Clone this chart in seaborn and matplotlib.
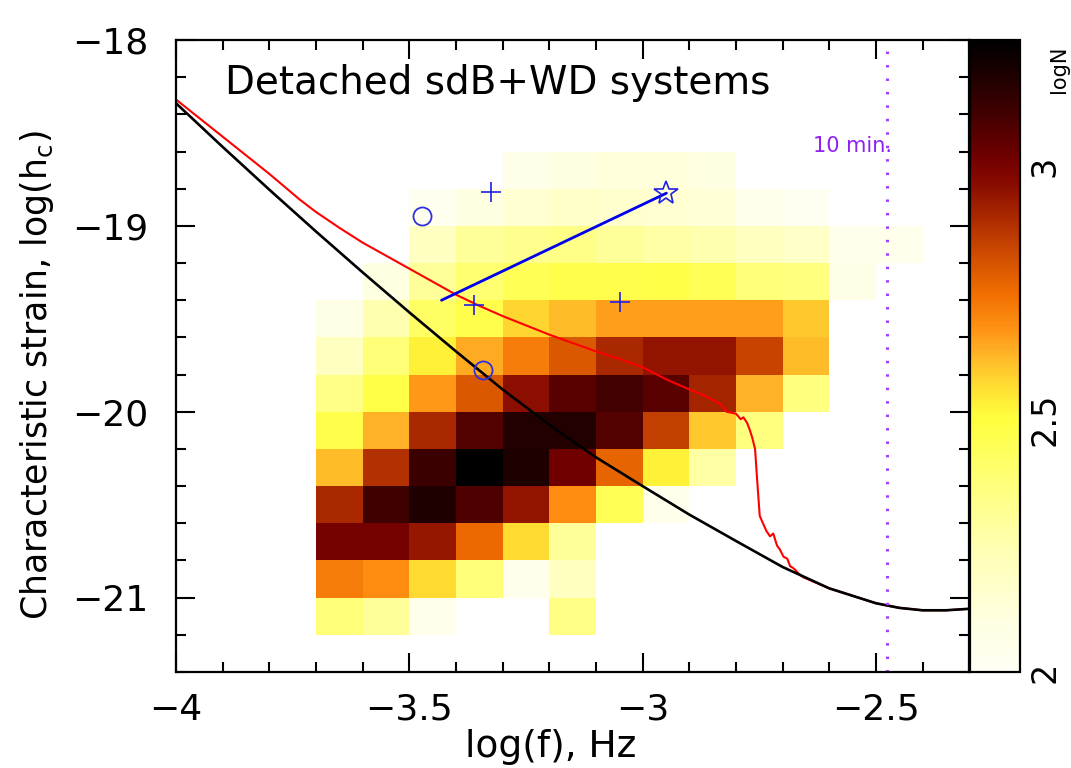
import numpy as np
import matplotlib
matplotlib.use("Agg")
import matplotlib.pyplot as plt
import seaborn as sns
from matplotlib.colors import LinearSegmentedColormap
from matplotlib.ticker import MultipleLocator

# population map: bin centres and log10 of the number of systems per bin
logf_centers = [-3.65, -3.55, -3.45, -3.35, -3.25, -3.15, -3.05,
                -2.95, -2.85, -2.75, -2.65, -2.55, -2.45]
logh_centers = [-18.7, -18.9, -19.1, -19.3, -19.5, -19.7, -19.9,
                -20.1, -20.3, -20.5, -20.7, -20.9, -21.1]
nan = np.nan
logN_rows = [
    [nan, nan, nan, nan, 2.06, 2.10, 2.12, 2.12, 2.10, nan, nan, nan, nan],
    [nan, nan, 2.03, 2.10, 2.15, 2.18, 2.16, 2.15, 2.13, 2.05, 2.02, nan, nan],
    [nan, nan, 2.20, 2.30, 2.33, 2.35, 2.30, 2.28, 2.25, 2.20, 2.18, 2.04, 2.05],
    [nan, 2.10, 2.30, 2.40, 2.45, 2.47, 2.47, 2.48, 2.45, 2.38, 2.36, 2.07, nan],
    [2.08, 2.25, 2.42, 2.47, 2.58, 2.62, 2.66, 2.66, 2.66, 2.66, 2.60, nan, nan],
    [2.20, 2.38, 2.53, 2.64, 2.72, 2.80, 2.90, 2.95, 2.95, 2.84, 2.62, nan, nan],
    [2.35, 2.48, 2.67, 2.80, 2.96, 3.06, 3.10, 3.06, 2.91, 2.63, 2.36, nan, nan],
    [2.47, 2.63, 2.90, 3.07, 3.17, 3.17, 3.07, 2.85, 2.60, 2.36, nan, nan, nan],
    [2.62, 2.88, 3.12, 3.25, 3.18, 3.02, 2.77, 2.53, 2.28, nan, nan, nan, nan],
    [2.90, 3.11, 3.18, 3.08, 2.95, 2.69, 2.45, 2.05, nan, nan, nan, nan, nan],
    [3.01, 3.01, 2.94, 2.76, 2.57, 2.30, nan, nan, nan, nan, nan, nan, nan],
    [2.72, 2.69, 2.57, 2.38, 2.05, 2.20, nan, nan, nan, nan, nan, nan, nan],
    [2.38, 2.30, 2.05, nan, nan, 2.35, nan, nan, nan, nan, nan, nan, nan],
]

# detector sensitivity (black) and sensitivity + confusion noise (red)
sens_logf = [-4.0, -3.9, -3.8, -3.7, -3.6, -3.5, -3.4, -3.3, -3.2, -3.1, -3.0,
             -2.9, -2.8, -2.7, -2.6, -2.5, -2.45, -2.4, -2.35, -2.3]
sens_logh = [-18.34, -18.575, -18.805, -19.03, -19.25, -19.465, -19.675, -19.88,
             -20.07, -20.245, -20.40, -20.553, -20.695, -20.835, -20.95, -21.03,
             -21.055, -21.068, -21.068, -21.06]
noise_logf = [-4.0, -3.9, -3.8, -3.734, -3.7, -3.65, -3.6, -3.55, -3.5, -3.45, -3.4,
              -3.35, -3.3, -3.25, -3.2, -3.15, -3.1, -3.05, -3.0, -2.95, -2.9,
              -2.87, -2.85, -2.83, -2.82, -2.80, -2.79, -2.784, -2.776, -2.77,
              -2.765, -2.759, -2.755, -2.749, -2.742, -2.735, -2.727, -2.72, -2.712,
              -2.706, -2.698, -2.69, -2.684, -2.675, -2.666, -2.656, -2.6, -2.5,
              -2.45, -2.4, -2.35, -2.3]
noise_logh = [-18.32, -18.52, -18.72, -18.86, -18.925, -19.01, -19.09, -19.16, -19.23,
              -19.30, -19.37, -19.43, -19.485, -19.535, -19.585, -19.63, -19.675,
              -19.715, -19.76, -19.825, -19.88, -19.91, -19.935, -19.965, -20.0,
              -20.01, -20.04, -20.03, -20.06, -20.10, -20.14, -20.20, -20.35, -20.56,
              -20.60, -20.64, -20.67, -20.655, -20.72, -20.74, -20.78, -20.79, -20.83,
              -20.845, -20.87, -20.89, -20.95, -21.03, -21.055, -21.068, -21.068, -21.06]

# individual known systems
circle_logf = [-3.472, -3.343]
circle_logh = [-18.946, -19.774]
plus_logf = [-3.325, -3.361, -3.049]
plus_logh = [-18.815, -19.425, -19.41]
track_logf = [-3.431, -2.949]
track_logh = [-19.40, -18.824]
star_logf = [-2.949]
star_logh = [-18.824]

period_10min_logf = -2.477

sns.set_style("ticks")
plt.rcParams['font.family'] = ['DejaVu Sans']
plt.rcParams.update({"text.color": "black", "axes.labelcolor": "black",
                     "xtick.color": "black", "ytick.color": "black",
                     "axes.edgecolor": "black"})

cmap = LinearSegmentedColormap.from_list("heat", [
    (0.000, (1.00, 1.00, 0.96)),
    (0.080, (1.00, 1.00, 0.88)),
    (0.200, (1.00, 1.00, 0.69)),
    (0.320, (1.00, 1.00, 0.43)),
    (0.400, (1.00, 1.00, 0.24)),
    (0.448, (1.00, 0.88, 0.20)),
    (0.496, (1.00, 0.73, 0.16)),
    (0.544, (1.00, 0.57, 0.08)),
    (0.600, (0.94, 0.43, 0.00)),
    (0.656, (0.82, 0.31, 0.00)),
    (0.720, (0.67, 0.16, 0.00)),
    (0.776, (0.53, 0.04, 0.00)),
    (0.816, (0.44, 0.00, 0.00)),
    (0.880, (0.27, 0.00, 0.00)),
    (0.944, (0.12, 0.00, 0.00)),
    (1.000, (0.00, 0.00, 0.00)),
])

fig = plt.figure(figsize=(10.71, 7.68), dpi=100)
ax = fig.add_axes([0.1643, 0.125, 0.7407, 0.8229])
cax = fig.add_axes([0.9057, 0.125, 0.0467, 0.8229])

dx, dy = 0.1, 0.2
x_edges = np.append(np.array(logf_centers) - dx / 2, logf_centers[-1] + dx / 2)
y_edges = np.append(np.array(logh_centers) + dy / 2, logh_centers[-1] - dy / 2)
Z = np.ma.masked_invalid(np.array(logN_rows, dtype=float))
mesh = ax.pcolormesh(x_edges, y_edges, Z, cmap=cmap, vmin=2.0, vmax=3.25)

sns.lineplot(x=noise_logf, y=noise_logh, sort=False, estimator=None, color="red", lw=1.5, ax=ax)
sns.lineplot(x=sens_logf, y=sens_logh, sort=False, estimator=None, color="black", lw=1.9, ax=ax)
sns.lineplot(x=track_logf, y=track_logh, sort=False, estimator=None, color="#0000ee", lw=2.0, ax=ax)

ax.plot(circle_logf, circle_logh, 'o', mfc='none', mec='#3030e0', ms=13, mew=1.3)
ax.plot(plus_logf, plus_logh, '+', color='#2020e8', ms=14, mew=1.2)
ax.plot(star_logf, star_logh, '*', mfc='none', mec='#2020e8', ms=18, mew=1.2)

ax.axvline(period_10min_logf, color='#a040ff', lw=2.2, ls=(0, (0.8, 3.6)))
ax.text(-2.466, -18.57, "10 min.", color='#9020f0', fontsize=15, ha='right', va='center')
ax.text(-3.895, -18.23, "Detached sdB+WD systems", fontsize=28, ha='left', va='center')

ax.set_xlim(-4.0, -2.3)
ax.set_ylim(-21.4, -18.0)
ax.set_xticks([-4, -3.5, -3, -2.5])
ax.set_xticklabels(["\u22124", "\u22123.5", "\u22123", "\u22122.5"])
ax.set_yticks([-21, -20, -19, -18])
ax.set_yticklabels(["\u221221", "\u221220", "\u221219", "\u221218"])
ax.xaxis.set_minor_locator(MultipleLocator(0.1))
ax.yaxis.set_minor_locator(MultipleLocator(0.2))
ax.tick_params(which='both', direction='in', top=True, right=True, width=1.5, labelsize=26)
ax.tick_params(which='major', length=14)
ax.tick_params(which='minor', length=7.5)
ax.tick_params(axis='x', pad=15)
ax.tick_params(axis='y', pad=20)
for s in ax.spines.values():
    s.set_linewidth(1.6)

ax.set_xlabel("log(f), Hz", fontsize=27, va='center')
ax.xaxis.set_label_coords(0.472, -0.118)
ax.set_ylabel("Characteristic strain, log(h$_{\\rm c}$)", fontsize=25, va='center', ha='center')
ax.yaxis.set_label_coords(-0.175, 0.47)

cb = fig.colorbar(mesh, cax=cax)
cb.set_ticks([2, 2.5, 3])
cb.set_ticklabels(["2", "2.5", "3"])
cb.ax.yaxis.set_minor_locator(MultipleLocator(0.1))
cb.ax.tick_params(which='both', direction='in', left=True, right=True, width=1.3, length=7, labelsize=24, pad=6)
for lab in cb.ax.get_yticklabels():
    lab.set_rotation(90)
    lab.set_va('center')
cb.outline.set_linewidth(1.6)
fig.text(0.998, 0.94, "logN", rotation=90, fontsize=15, ha='right', va='top')

fig.savefig("out.png", dpi=100)
